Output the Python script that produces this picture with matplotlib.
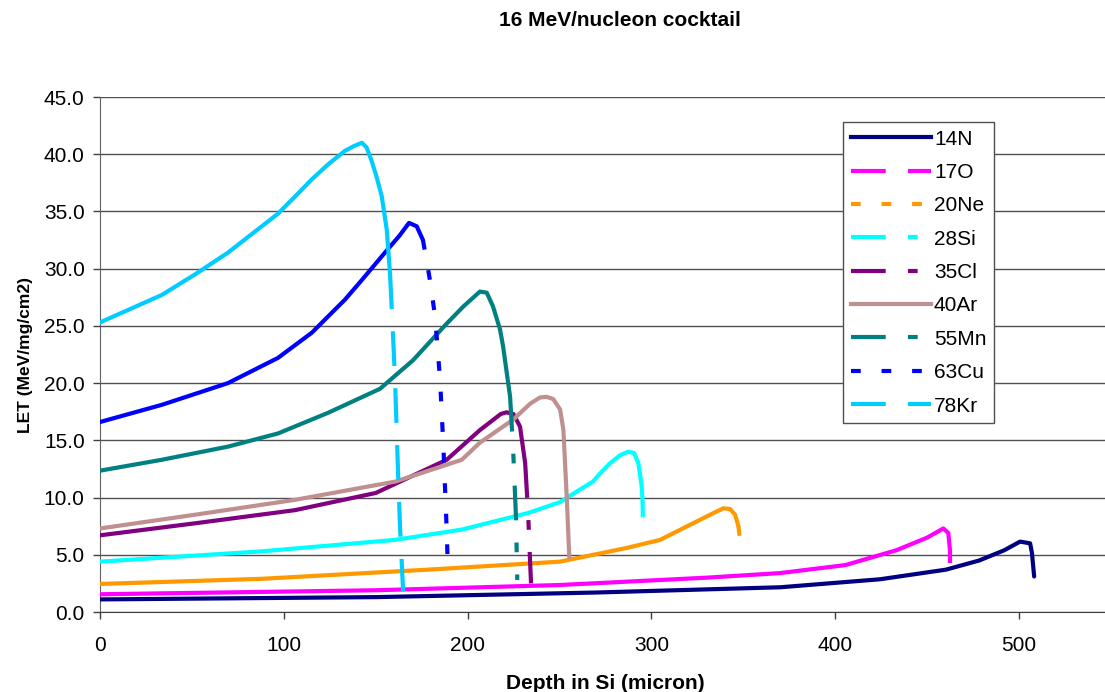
#LET vs depth in Si for the 16 MeV/nucleon cocktail
#values

import matplotlib
matplotlib.use("Agg")
import matplotlib.pyplot as plt
from matplotlib.lines import Line2D

plt.rcParams['font.family'] = ['Liberation Sans', 'DejaVu Sans']
plt.rcParams['lines.scale_dashes'] = False

## DATA ##
ions = ["14N", "17O", "20Ne", "28Si", "35Cl", "40Ar", "55Mn", "63Cu", "78Kr"]

depth_14N = [0, 150, 269.3, 370, 424.3, 460.2, 478.3, 492, 500.5, 506, 507, 508.2]
let_14N = [1.1, 1.3, 1.7, 2.16, 2.86, 3.7, 4.5, 5.4, 6.15, 6.0, 5.15, 3.1]

depth_17O = [0, 150, 250.3, 330, 370, 405.5, 433.3, 450, 458.8, 461.5, 462.4, 462.4]
let_17O = [1.55, 1.9, 2.36, 3.0, 3.4, 4.1, 5.4, 6.5, 7.3, 6.9, 5.4, 4.25]

depth_20Ne = [0, 88, 178.5, 250.3, 286.6, 304.7, 322.6, 331.9, 339.1, 342.8, 345.5, 347.3, 348.2, 348.4]
let_20Ne = [2.45, 2.9, 3.7, 4.4, 5.6, 6.3, 7.75, 8.5, 9.06, 9.0, 8.5, 7.5, 6.3, 5.0]

depth_28Si = [0, 88, 160.5, 196.8, 232.9, 250.3, 260.1, 268.2, 272, 277.5, 283, 287.3, 290.5, 292.9, 294.7, 295.2, 295.3]
let_28Si = [4.4, 5.3, 6.3, 7.2, 8.65, 9.6, 10.6, 11.4, 12.1, 13.0, 13.7, 14.0, 13.9, 13.0, 11.0, 9.6, 8.3]

depth_35Cl = [0, 51.7, 106.1, 150, 188.6, 206.7, 214, 218, 221.2, 224.9, 228.5, 231.3, 232.9, 234, 234.5]
let_35Cl = [6.7, 7.75, 8.9, 10.4, 13.3, 15.9, 16.8, 17.3, 17.45, 17.3, 16.2, 13.0, 8.65, 4.3, 2.5]

depth_40Ar = [0, 51.7, 106.1, 160.8, 196.8, 206.7, 224.7, 234, 239.4, 243, 246.6, 250.3, 252.1, 253.9, 255.3]
let_40Ar = [7.3, 8.5, 9.8, 11.4, 13.3, 14.8, 16.8, 18.2, 18.75, 18.8, 18.6, 17.7, 15.9, 10.1, 4.8]

depth_55Mn = [0, 33.6, 69.6, 96.8, 124, 152.3, 170.3, 188.6, 197.7, 206.7, 210.4, 213.8, 217.6, 219.3, 223.1, 224.7, 226.3, 227]
let_55Mn = [12.35, 13.3, 14.45, 15.6, 17.4, 19.5, 22.0, 25.2, 26.7, 28.0, 27.9, 26.7, 24.7, 23.2, 18.8, 14.4, 8.3, 2.8]

depth_63Cu = [0, 33.6, 69.6, 96.8, 115.2, 133.3, 142.4, 155, 163, 168.1, 172.3, 175.7, 179.5, 182.3, 185, 186.8, 188.6, 189.3]
let_63Cu = [16.6, 18.1, 20.0, 22.2, 24.4, 27.3, 29.0, 31.4, 32.9, 34.0, 33.7, 32.5, 29.0, 25.8, 20.3, 14.5, 7.2, 3.5]

depth_78Kr = [0, 15.4, 33.6, 51.7, 69.6, 88, 96.8, 106.1, 115.2, 124, 133.3, 138, 142.4, 145, 147.8, 150.5, 153.3, 156, 157.8, 159.2, 160.5, 162.1, 163.2, 164.9]
let_78Kr = [25.3, 26.4, 27.7, 29.5, 31.4, 33.7, 34.8, 36.3, 37.8, 39.1, 40.3, 40.7, 41.0, 40.6, 39.4, 38.0, 36.3, 33.4, 29.5, 24.9, 20.3, 12.4, 7.5, 1.8]
## DATA ##

depths = [depth_14N, depth_17O, depth_20Ne, depth_28Si, depth_35Cl, depth_40Ar, depth_55Mn, depth_63Cu, depth_78Kr]
lets = [let_14N, let_17O, let_20Ne, let_28Si, let_35Cl, let_40Ar, let_55Mn, let_63Cu, let_78Kr]

#excel-ish styling
colors = ["#000080", "#FF00FF", "#FF9900", "#00FFFF", "#800080", "#C09090", "#008080", "#0000FF", "#00CCFF"]
longdash = (0, (25, 16))
shortdash = (0, (7, 15))
dashdot = (0, (25, 16, 7, 16))
styles = ["-", longdash, shortdash, dashdot, dashdot, "-", dashdot, shortdash, longdash]
#dense points look solid in excel, so only the steep tail shows the dashes
dash_start = [None, 10, 11, 15, 11, None, 14, 11, 18]

fig = plt.figure(figsize=(11.05, 6.92), dpi=100)
ax = fig.add_axes([100/1105, 80/692, 1011/1105, 515/692])

handles = []
for i in range(len(ions)):
    x = depths[i]
    y = lets[i]
    k = dash_start[i]
    if k is None:
        ax.plot(x, y, color=colors[i], lw=3, zorder=3+i, solid_capstyle='round', solid_joinstyle='round')
    else:
        ax.plot(x[:k+1], y[:k+1], color=colors[i], lw=3, zorder=3+i, solid_capstyle='round', solid_joinstyle='round')
        ax.plot(x[k:], y[k:], color=colors[i], lw=3, ls=styles[i], zorder=3+i)
    handles.append(Line2D([0], [0], color=colors[i], lw=3, ls=styles[i]))

ax.set_xlim(0, 550)
ax.set_ylim(0, 45)
ax.set_xticks(range(0, 501, 100))
ax.set_yticks(range(0, 46, 5))
ax.set_yticklabels(["%.1f" % v for v in range(0, 46, 5)])
ax.tick_params(axis='both', direction='out', length=5, width=1, labelsize=15, colors='#404040', labelcolor='black')
ax.tick_params(axis='y', pad=6)
ax.tick_params(axis='x', pad=12)
ax.yaxis.grid(True, color='#505050', lw=1)
ax.set_axisbelow(True)
for s in ['top', 'right']:
    ax.spines[s].set_visible(False)
ax.spines['left'].set_color('#606060')
ax.spines['bottom'].set_color('#404040')

ax.set_xlabel("Depth in Si (micron)", fontsize=15, fontweight='bold', labelpad=14)
ax.set_ylabel("LET (MeV/mg/cm2)", fontsize=12.5, fontweight='bold', labelpad=8)
fig.text(620/1105, 1 - 20/692, "16 MeV/nucleon cocktail", fontsize=15, fontweight='bold', ha='center', va='center')

leg = ax.legend(handles, ions, loc='upper right', bbox_to_anchor=(0.884, 0.951), borderaxespad=0,
                fontsize=15, handlelength=3.85, handletextpad=0.15, labelspacing=0.69,
                borderpad=0.35, fancybox=False, framealpha=1, edgecolor='#505050')
leg.get_frame().set_linewidth(1)
leg.set_zorder(20)

fig.savefig("out.png", dpi=100)
